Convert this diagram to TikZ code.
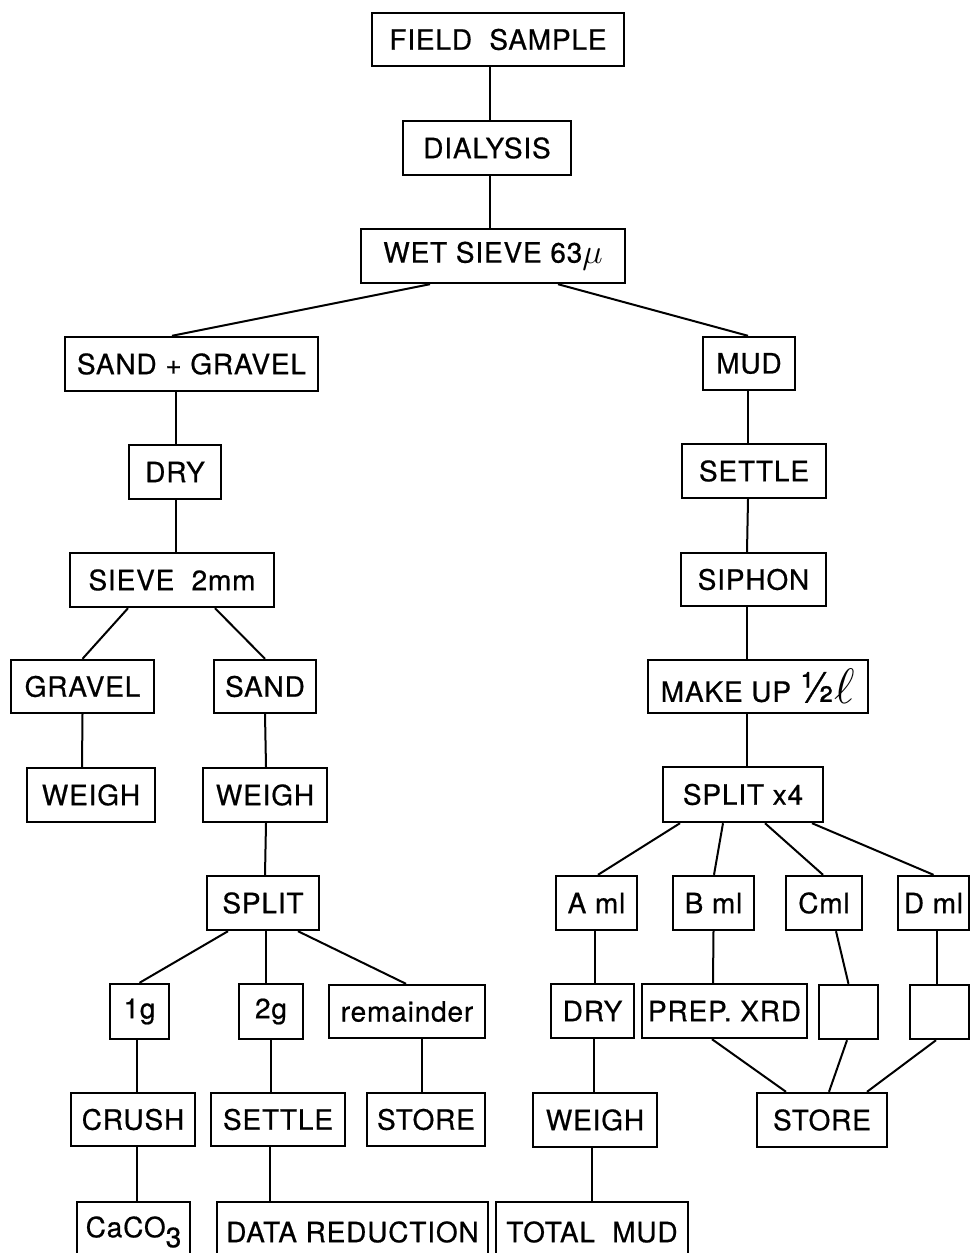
\documentclass[tikz,border=0pt]{standalone}
\usepackage{fontspec}
\setmainfont[LetterSpace=3,FakeBold=0.6]{TeX Gyre Heros}
\begin{document}
\begin{tikzpicture}[x=0.5pt,y=-0.5pt,
  box/.style={draw,line width=1.2pt,inner sep=0pt,font=\fontsize{14}{16}\selectfont},
  conn/.style={line width=1pt}]
\useasboundingbox (0,0) rectangle (971,1253);
\newcommand\mkbox[6]{\node[box,minimum width={(#4-#2)*0.5pt},minimum height={(#5-#3)*0.5pt}] (#1) at ({(#2+#4)/2},{(#3+#5)/2}) {#6};}
% main column
\mkbox{fs}{372}{13}{624}{66}{FIELD\ \ SAMPLE}
\mkbox{dia}{403}{121}{571}{175}{DIALYSIS}
\mkbox{wet}{361}{229}{625}{283}{WET SIEVE 63\raisebox{-0.5pt}{\fontsize{16}{16}\selectfont$\mu$}}
% left branch
\mkbox{sg}{65}{337}{318}{391}{SAND + GRAVEL}
\mkbox{dryL}{129}{445}{221}{499}{DRY}
\mkbox{sieve}{70}{553}{274}{607}{SIEVE\ \ 2mm}
\mkbox{gravel}{11}{660}{154}{713}{GRAVEL}
\mkbox{sand}{214}{660}{316}{713}{SAND}
\mkbox{weighG}{27}{768}{155}{822}{WEIGH}
\mkbox{weighS}{203}{768}{327}{822}{WEIGH}
\mkbox{split}{207}{876}{319}{930}{SPLIT}
\mkbox{gone}{110}{984}{169}{1039}{1g}
\mkbox{gtwo}{239}{984}{303}{1039}{2g}
\mkbox{rem}{329}{985}{485}{1038}{remainder}
\mkbox{crush}{71}{1093}{195}{1146}{CRUSH}
\mkbox{settleL}{211}{1093}{345}{1146}{SETTLE}
\mkbox{storeL}{367}{1093}{485}{1146}{STORE}
\mkbox{caco}{77}{1202}{190}{1262}{CaCO\raisebox{-5pt}{3}}
\mkbox{data}{217}{1202}{488}{1262}{DATA REDUCTION}
\mkbox{total}{496}{1202}{688}{1262}{TOTAL\ \ MUD}
% right branch
\mkbox{mud}{703}{337}{795}{390}{MUD}
\mkbox{settleR}{682}{444}{826}{498}{SETTLE}
\mkbox{siphon}{681}{553}{826}{606}{SIPHON}
\mkbox{make}{648}{660}{868}{713}{MAKE UP {\fontsize{21}{21}\selectfont ½}\raisebox{-1pt}{\fontsize{24}{24}\selectfont$\ell$}}
\mkbox{sx}{663}{767}{823}{822}{SPLIT x4}
\mkbox{aml}{556}{876}{637}{930}{A ml}
\mkbox{bml}{673}{876}{754}{930}{B ml}
\mkbox{cml}{786}{876}{862}{930}{Cml}
\mkbox{dml}{898}{876}{969}{930}{D ml}
\mkbox{dryR}{551}{984}{634}{1038}{DRY}
\mkbox{prep}{642}{984}{807}{1038}{PREP. XRD}
\mkbox{ebc}{819}{985}{878}{1039}{}
\mkbox{ebd}{910}{985}{969}{1039}{}
\mkbox{storeR}{757}{1093}{887}{1147}{STORE}
\mkbox{weighR}{533}{1093}{657}{1147}{WEIGH}
% connectors
\draw[conn] ([xshift=-4pt]fs.south) -- ([xshift=1.5pt]dia.north);
\draw[conn] ([xshift=1.5pt]dia.south) -- ([xshift=-1.5pt]wet.north);
\draw[conn] ([xshift=-31.5pt]wet.south) -- ([xshift=-9.75pt]sg.north);
\draw[conn] ([xshift=32.5pt]wet.south) -- ([xshift=-0.5pt]mud.north);
\draw[conn] ([xshift=-7.75pt]sg.south) -- ([xshift=0.5pt]dryL.north);
\draw[conn] ([xshift=0.5pt]dryL.south) -- ([xshift=2pt]sieve.north);
\draw[conn] ([xshift=-22pt]sieve.south) -- (gravel.north);
\draw[conn] ([xshift=21.5pt]sieve.south) -- (sand.north);
\draw[conn] (gravel.south) -- ([xshift=-4.5pt]weighG.north);
\draw[conn] (sand.south) -- ([xshift=0.5pt]weighS.north);
\draw[conn] ([xshift=0.5pt]weighS.south) -- ([xshift=1pt]split.north);
\draw[conn] ([xshift=-17.5pt]split.south) -- (gone.north);
\draw[conn] ([xshift=1.5pt]split.south) -- ([xshift=-2.5pt]gtwo.north);
\draw[conn] ([xshift=17.5pt]split.south) -- ([xshift=-0.5pt]rem.north);
\draw[conn] ([xshift=-1.25pt]gone.south) -- ([xshift=2pt]crush.north);
\draw[conn] (gtwo.south) -- ([xshift=-3.5pt]settleL.north);
\draw[conn] ([xshift=7.5pt]rem.south) -- ([xshift=-2pt]storeL.north);
\draw[conn] ([xshift=2pt]crush.south) -- ([xshift=1.75pt]caco.north);
\draw[conn] ([xshift=-4pt]settleL.south) -- ([xshift=-41.25pt]data.north);
\draw[conn] ([xshift=-0.5pt]mud.south) -- ([xshift=-3pt]settleR.north);
\draw[conn] ([xshift=-3pt]settleR.south) -- ([xshift=-3.25pt]siphon.north);
\draw[conn] ([xshift=-3.25pt]siphon.south) -- ([xshift=-5.5pt]make.north);
\draw[conn] ([xshift=-5.5pt]make.south) -- ([xshift=2pt]sx.north);
\draw[conn] ([xshift=-31.5pt]sx.south) -- ([xshift=0.75pt]aml.north);
\draw[conn] ([xshift=-10pt]sx.south) -- ([xshift=0.25pt]bml.north);
\draw[conn] ([xshift=11pt]sx.south) -- ([xshift=-0.5pt]cml.north);
\draw[conn] ([xshift=34.5pt]sx.south) -- (dml.north);
\draw[conn] ([xshift=-0.75pt]aml.south) -- ([xshift=1.25pt]dryR.north);
\draw[conn] (bml.south) -- ([xshift=-5.75pt]prep.north);
\draw[conn] ([xshift=6pt]cml.south) -- (ebc.north);
\draw[conn] ([xshift=1.75pt]dml.south) -- ([xshift=-1.25pt]ebd.north);
\draw[conn] ([xshift=0.75pt]dryR.south) -- ([xshift=-0.5pt]weighR.north);
\draw[conn] ([xshift=-6.25pt]prep.south) -- ([xshift=-18pt]storeR.north);
\draw[conn] ([xshift=-0.75pt]ebc.south) -- ([xshift=3.5pt]storeR.north);
\draw[conn] ([xshift=-1.75pt]ebd.south) -- ([xshift=22.5pt]storeR.north);
\draw[conn] ([xshift=-1.5pt]weighR.south) -- (total.north);
\end{tikzpicture}
\end{document}
